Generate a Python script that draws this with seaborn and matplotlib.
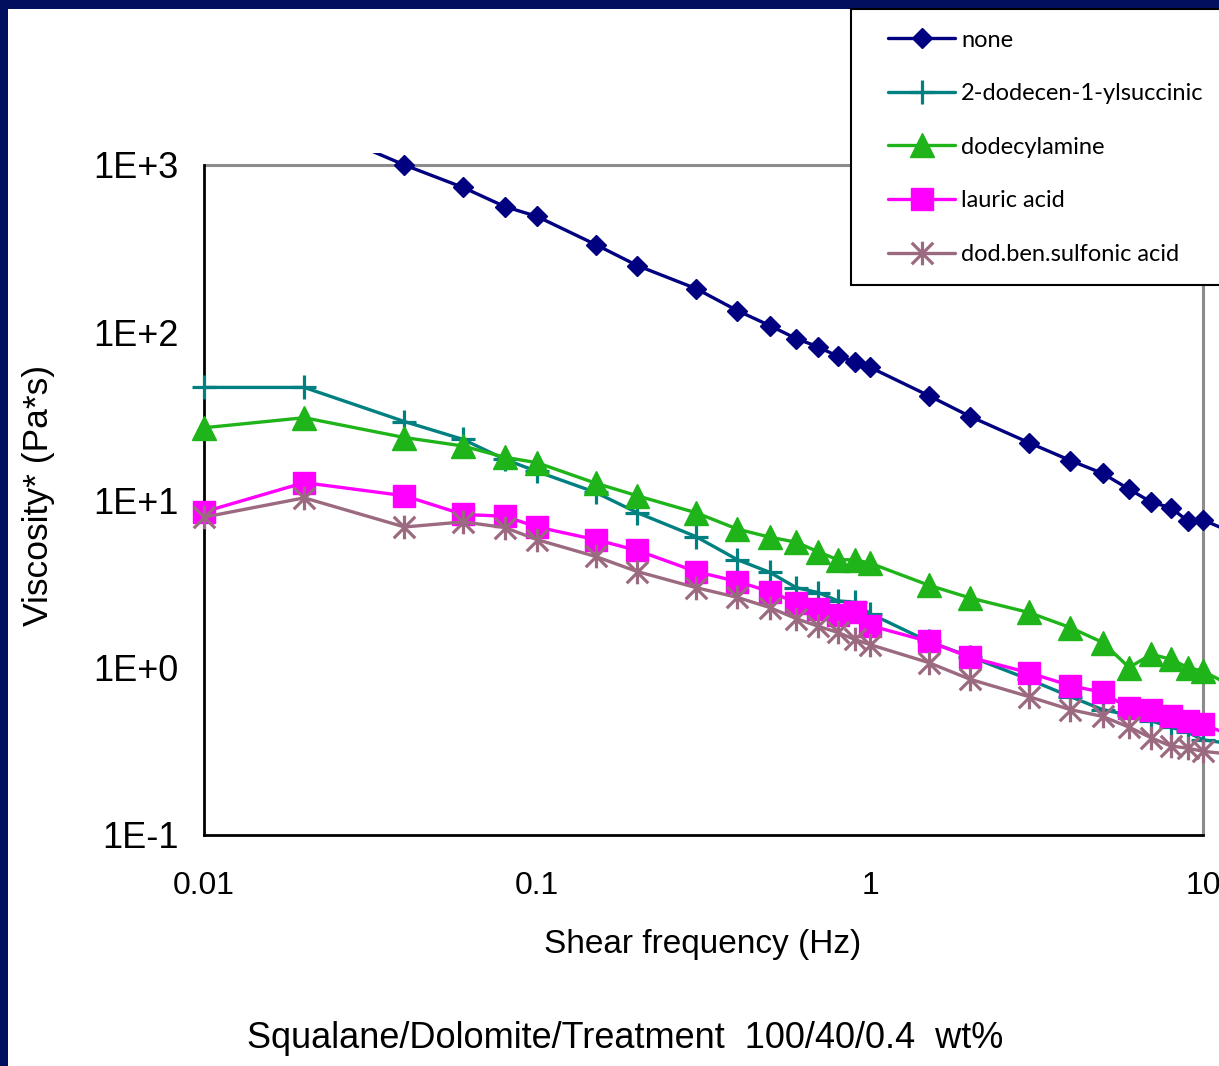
import numpy as np
import matplotlib
matplotlib.use('Agg')
import matplotlib.pyplot as plt
from matplotlib.path import Path
from matplotlib.patches import Rectangle
from matplotlib.lines import Line2D
from matplotlib.legend_handler import HandlerLine2D
from matplotlib.ticker import NullLocator
import seaborn as sns

# shear frequency (Hz) - last point lies past the 10 Hz frame, only its segment shows
freq = [0.01, 0.02, 0.04, 0.06, 0.08, 0.1, 0.15, 0.2, 0.3, 0.4, 0.5, 0.6, 0.7,
        0.8, 0.9, 1, 1.5, 2, 3, 4, 5, 6, 7, 8, 9, 10, 15]

# complex viscosity (Pa*s)
visc_none = [np.nan, 1800, 1000, 734, 565, 493, 335, 251, 183, 135, 110, 92, 82,
             72, 67, 62, 42, 31.5, 22, 17.2, 14.4, 11.6, 9.7, 9.0, 7.5, 7.6, 5.4]
visc_succinic = [47, 47, 29.4, 23, 17.5, 14.8, 11.1, 8.4, 6.05, 4.4, 3.7, 3.0, 2.8,
                 2.5, 2.45, 2.1, 1.43, 1.16, 0.85, 0.67, 0.56, 0.52, 0.48, 0.44, 0.41, 0.37, 0.33]
visc_amine = [27, 31, 23.6, 21, 18, 16.7, 12.6, 10.6, 8.4, 6.7, 6.0, 5.6, 4.9,
              4.4, 4.4, 4.2, 3.1, 2.6, 2.13, 1.73, 1.41, 1.0, 1.2, 1.12, 1.0, 0.95, 0.63]
visc_lauric = [8.5, 12.7, 10.6, 8.2, 8.0, 6.9, 5.8, 5.0, 3.74, 3.26, 2.84, 2.44, 2.22,
               2.07, 2.13, 1.78, 1.43, 1.15, 0.93, 0.78, 0.71, 0.57, 0.56, 0.51, 0.48, 0.46, 0.33]
visc_sulfonic = [7.9, 10.3, 6.9, 7.4, 6.85, 5.8, 4.6, 3.74, 3.0, 2.62, 2.28, 1.96, 1.76,
                 1.62, 1.47, 1.37, 1.07, 0.85, 0.67, 0.56, 0.51, 0.44, 0.38, 0.34, 0.33, 0.316, 0.29]

names = ['none', '2-dodecen-1-ylsuccinic', 'dodecylamine', 'lauric acid', 'dod.ben.sulfonic acid']
values = [visc_none, visc_succinic, visc_amine, visc_lauric, visc_sulfonic]

x_ticks = [0.01, 0.1, 1, 10]
x_tick_labels = ['0.01', '0.1', '1', '10']
y_ticks = [0.1, 1, 10, 100, 1000]
y_tick_labels = ['1E-1', '1E+0', '1E+1', '1E+2', '1E+3']

# excel style asterisk: X plus a vertical bar
asterisk = Path([(-1, -1), (1, 1), (-1, 1), (1, -1), (0, -1.1), (0, 1.1)],
                [Path.MOVETO, Path.LINETO] * 3)

colors = ['#000080', '#008080', '#1fb419', '#ff00ff', '#9c6a80']
markers = ['D', '+', '^', 's', asterisk]
msizes = [9.8, 17, 17.5, 15.5, 17]
mews = [1, 2.3, 1, 1, 2.3]

sns.set_style('white')
plt.rcParams['font.family'] = ['Liberation Sans', 'DejaVu Sans']

W, H = 1219, 1066
fig = plt.figure(figsize=(W / 100, H / 100), dpi=100, facecolor='#00105e')
fig.patches.append(Rectangle((8 / W, 0), 1, 1 - 9 / H, transform=fig.transFigure,
                             facecolor='white', edgecolor='none', zorder=-1))

ax = fig.add_axes([174 / W, (H - 835) / H, (W - 174) / W, (835 - 153) / H])
ax.set_facecolor('none')

for i in range(len(names)):
    sns.lineplot(x=freq, y=values[i], ax=ax, color=colors[i], marker=markers[i],
                 markersize=msizes[i], markeredgecolor=colors[i], markeredgewidth=mews[i],
                 linewidth=2.4, label=names[i], zorder=3 + i)

ax.set_xscale('log')
ax.set_yscale('log')
ax.set_xlim(10 ** (-2 - 30 / 333), 10 ** (1 + 16 / 333))
ax.set_ylim(0.1, 10 ** (3 + 12 / 167.5))

# grey frame at top and right of the plot area
ax.hlines(1000, 0.01, 10, colors='#8c8c8c', linewidth=2.2, zorder=1)
ax.vlines(10, 0.1, 1000, colors='#8c8c8c', linewidth=2.2, zorder=1)

for s in ['top', 'right']:
    ax.spines[s].set_visible(False)
ax.spines['left'].set_position(('data', 0.01))
ax.spines['left'].set_bounds(0.1, 1000)
ax.spines['bottom'].set_bounds(0.01, 10)
for s in ['left', 'bottom']:
    ax.spines[s].set_color('black')
    ax.spines[s].set_linewidth(2)

ax.set_xticks(x_ticks, x_tick_labels)
ax.set_yticks(y_ticks, y_tick_labels)
ax.xaxis.set_minor_locator(NullLocator())
ax.yaxis.set_minor_locator(NullLocator())
ax.tick_params(axis='both', direction='inout', length=14, width=2, color='black',
               labelcolor='black')
ax.tick_params(axis='y', labelsize=26, pad=11)
ax.tick_params(axis='x', labelsize=23, pad=19)

ax.set_xlabel('Shear frequency (Hz)', fontsize=24, va='center', color='black')
ax.xaxis.set_label_coords((703 - 174) / (W - 174), (835 - 944) / (835 - 153))
ax.set_ylabel('Viscosity* (Pa*s)', fontsize=25.5, va='center', color='black')
ax.yaxis.set_label_coords((38 - 174) / (W - 174), (835 - 495) / (835 - 153))

fig.text(625 / W, 1 - 1038 / H, 'Squalane/Dolomite/Treatment  100/40/0.4  wt%',
         fontsize=26, ha='center', va='center', color='black')

handles, labels = ax.get_legend_handles_labels()
leg = ax.legend(handles, labels, loc='upper left',
                bbox_to_anchor=(851 / W, 1 - 9 / H - 0.3, 0.4, 0.3),
                bbox_transform=fig.transFigure, mode='expand', borderaxespad=0,
                frameon=True, fancybox=False, edgecolor='black', framealpha=1,
                prop={'family': 'Lato', 'size': 17}, handlelength=3.54,
                handletextpad=0.25, borderpad=0.87, labelspacing=1.38, numpoints=1,
                handler_map={Line2D: HandlerLine2D(xpad=0.70)})
leg.get_frame().set_linewidth(1.5)
for t in leg.get_texts():
    t.set_color('black')

fig.savefig('out.png', dpi=100, facecolor=fig.get_facecolor())
